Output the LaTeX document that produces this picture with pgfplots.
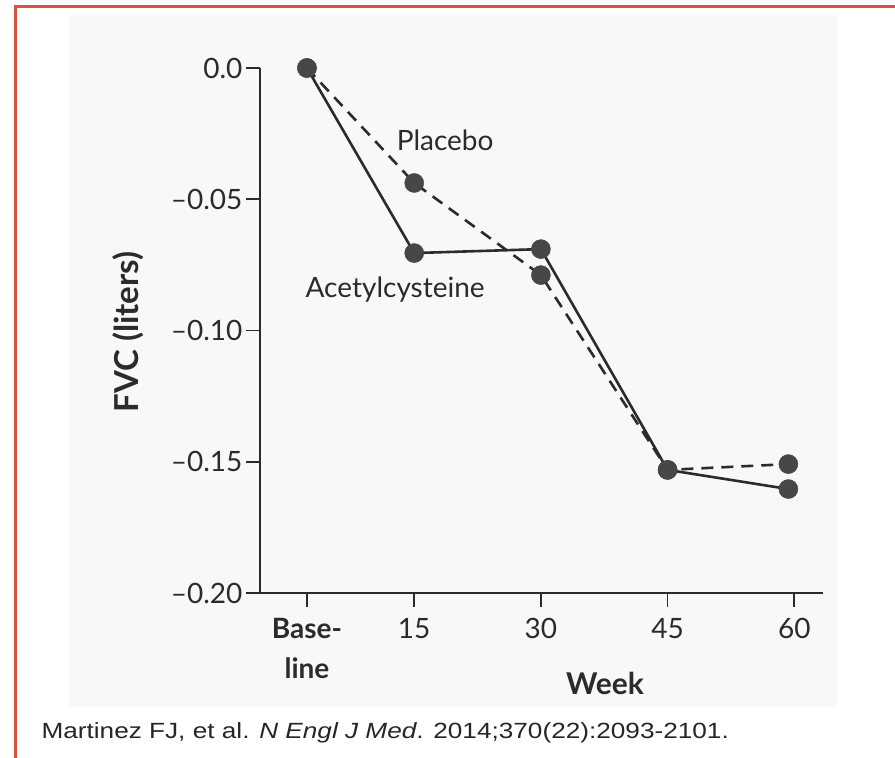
\documentclass[border=0pt]{standalone}
\usepackage{fontspec}
\setmainfont{Lato}
\newfontfamily\capfont{Liberation Sans}
\usepackage{pgfplots}
\pgfplotsset{compat=1.18}
\definecolor{frame}{HTML}{D2553C}
\definecolor{panel}{HTML}{F8F8F8}
\definecolor{ink}{HTML}{2B2B2B}
\definecolor{dot}{HTML}{474747}
\begin{document}
\begin{tikzpicture}
\begin{scope}[x=1pt,y=1pt,shift={(-260pt,-165pt)}]
\useasboundingbox (0,0) rectangle (895,758);
\fill[white] (0,0) rectangle (895,758);
\fill[panel] (69,51) rectangle (837,743);
\draw[frame, line width=3pt] (16,0) -- (16,751) -- (895,751);
\node[anchor=base west, font=\capfont\fontsize{22}{26}\selectfont, text=black!85] at (38,20) {\scalebox{1.19}[1]{Martinez FJ, et al. \textit{N Engl J Med}. 2014;370(22):2093-2101.}};
\end{scope}
\begin{axis}[
  scale only axis, width=563pt, height=525pt,
  xmin=-3.26, xmax=63.4, ymin=-0.2, ymax=0,
  axis lines*=left, clip=false,
  axis line style={ink, line width=1.6pt},
  tick align=outside, major tick length=14pt,
  tick style={ink, line width=1.6pt},
  xtick={2.3,15,30,45,60},
  xticklabels={{\textbf{Base-}\\\textbf{line}},15,30,45,60},
  ytick={-0.2,-0.15,-0.1,-0.05,0},
  yticklabels={--0.20,--0.15,--0.10,--0.05,0.0},
  ticklabel style={font=\fontsize{28}{40}\selectfont, text=ink},
  xticklabel style={align=center, yshift=-8pt},
  xlabel={\textbf{Week}},
  ylabel={\textbf{FVC (liters)}},
  x label style={font=\fontsize{30}{34}\selectfont, text=ink, at={(axis description cs:0.613,-0.173)}, anchor=center},
  y label style={font=\fontsize{33}{38}\selectfont, text=ink, at={(axis description cs:-0.2345,0.497)}, anchor=center, rotate=0},
]
\addplot[ink, line width=2.6pt, dash pattern=on 12pt off 8pt, mark=*, mark size=9.5pt, mark options={solid, fill=dot, draw=dot, line width=0.5pt}]
  coordinates {(2.3,0) (15,-0.0438) (30,-0.0789) (45,-0.1531) (59.3,-0.1509)};
\addplot[ink, line width=2.6pt, mark=*, mark size=9.5pt, mark options={solid, fill=dot, draw=dot, line width=0.5pt}]
  coordinates {(2.3,0) (15,-0.0705) (30,-0.0690) (45,-0.1531) (59.3,-0.1604)};
\node[font=\fontsize{28}{33}\selectfont, text=ink] at (axis cs:18.66,-0.0274) {Placebo};
\node[font=\fontsize{28}{33}\selectfont, text=ink] at (axis cs:12.74,-0.0846) {Acetylcysteine};
\end{axis}
\end{tikzpicture}
\end{document}
